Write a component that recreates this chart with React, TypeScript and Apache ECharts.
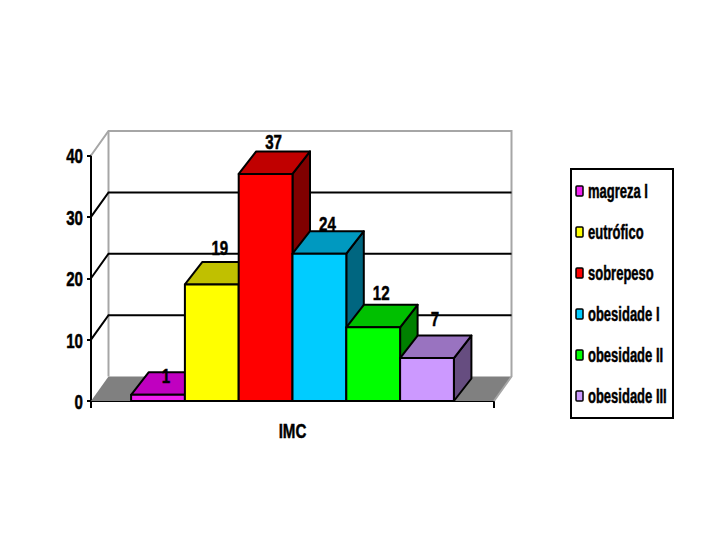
import React, { useEffect, useRef } from "react";
import * as echarts from "echarts";

const categories = ["IMC"];
const seriesNames = ["magreza I", "eutrófico", "sobrepeso", "obesidade I", "obesidade II", "obesidade III"];
const seriesValues = [1, 19, 37, 24, 12, 7];
const yTicks = [0, 10, 20, 30, 40];

const frontColors = ["#F020F0", "#FFFF00", "#FF0000", "#00CCFF", "#00FF00", "#CC99FF"];
const topColors = ["#C000C0", "#C0C000", "#C00000", "#0099C0", "#00C000", "#9973C0"];
const sideColors = ["#800080", "#808000", "#800000", "#006680", "#008000", "#664D80"];
const labelLift = [19, 37, 32, 30, 35, 39];

const FONT = '"Liberation Sans", Arial, sans-serif';
const SQUEEZE = 0.72;
const DX = 17.5;
const DY = -24.5;
const BAR_DY = -22.5;

function narrowText(text: string, x: number, y: number, size: number, align: string, squeeze = SQUEEZE) {
  return {
    type: "text",
    x,
    y,
    scaleX: squeeze,
    style: {
      text,
      x: 0,
      y: 0,
      align,
      verticalAlign: "middle",
      fill: "#000",
      stroke: "#000",
      lineWidth: 0.5,
      font: `bold ${size}px ${FONT}`,
    },
  };
}

function wallItem(params: any, api: any) {
  const cs = params.coordSys;
  const l = cs.x, r = cs.x + cs.width;
  const y = (v: number) => api.coord([0, v])[1];
  const children: any[] = [];
  const gray = "#A6A6A6";
  children.push({
    type: "polygon",
    shape: { points: [[l, y(0)], [l + DX, y(0) + DY], [r + DX, y(0) + DY], [r, y(0)]] },
    style: { fill: "#808080", stroke: "none" },
  });
  children.push({
    type: "polyline",
    shape: { points: [[l, y(40)], [l + DX, y(40) + DY], [r + DX, y(40) + DY], [r + DX, y(0) + DY], [r, y(0)]] },
    style: { fill: "none", stroke: gray, lineWidth: 2 },
  });
  children.push({
    type: "line",
    shape: { x1: l + DX, y1: y(40) + DY, x2: l + DX, y2: y(0) + DY },
    style: { stroke: gray, lineWidth: 2 },
  });
  yTicks.filter((t) => t > 0 && t < 40).forEach((t) => {
    children.push({
      type: "polyline",
      shape: { points: [[l, y(t)], [l + DX, y(t) + DY], [r + DX, y(t) + DY]] },
      style: { fill: "none", stroke: "#000", lineWidth: 2 },
    });
  });
  yTicks.forEach((t) => children.push(narrowText(String(t), l - 8, y(t) + 0.5, 21, "right")));
  children.push(narrowText(categories[0], api.coord([0, 0])[0], y(0) + 30, 21, "center"));
  return { type: "group", children };
}

function barItem(params: any, api: any) {
  const i = params.seriesIndex - 1;
  const band = api.size([1, 0])[0];
  const w = band * 0.1335;
  const value = api.value(1);
  const center = api.coord([0, value]);
  const x0 = center[0] + (i - 3) * w;
  const x1 = x0 + w;
  const top = center[1];
  const base = api.coord([0, 0])[1];
  const edge = { stroke: "#000", lineWidth: 2, lineJoin: "round" };
  return {
    type: "group",
    children: [
      {
        type: "polygon",
        shape: { points: [[x1, top], [x1 + DX, top + BAR_DY], [x1 + DX, base + BAR_DY], [x1, base]] },
        style: { fill: sideColors[i], ...edge },
      },
      {
        type: "polygon",
        shape: { points: [[x0, top], [x0 + DX, top + BAR_DY], [x1 + DX, top + BAR_DY], [x1, top]] },
        style: { fill: topColors[i], ...edge },
      },
      {
        type: "rect",
        shape: { x: x0, y: top, width: w, height: base - top },
        style: { fill: frontColors[i], ...edge },
      },
      narrowText(String(value), x0 + w / 2 + 8, top - labelLift[i], 21, "center"),
    ],
  };
}

function legendGraphics() {
  const box = { type: "rect", shape: { x: 571, y: 169, width: 102, height: 249 }, style: { fill: "#fff", stroke: "#000", lineWidth: 2 } };
  const rows = seriesNames.flatMap((name, i) => {
    const cy = 191 + i * 41;
    return [
      { type: "rect", shape: { x: 576, y: cy - 5, width: 7, height: 10, r: 1 }, style: { fill: frontColors[i], stroke: "#000", lineWidth: 1.5 } },
      narrowText(name, 588, cy, 20, "left", 0.65),
    ];
  });
  return [box, ...rows];
}

export default function App() {
  const ref = useRef<HTMLDivElement>(null);
  useEffect(() => {
    const chart = echarts.init(ref.current!, undefined, { renderer: "svg" });
    chart.setOption({
      animation: false,
      backgroundColor: "#fff",
      grid: { left: 91, top: 155.5, width: 403, height: 245.5 },
      graphic: legendGraphics(),
      xAxis: {
        type: "category",
        data: categories,
        axisLine: { lineStyle: { color: "#000", width: 2 } },
        axisTick: { show: true, length: 7, lineStyle: { color: "#000", width: 2 } },
        axisLabel: { show: false },
      },
      yAxis: {
        type: "value",
        min: 0,
        max: 40,
        interval: 10,
        splitLine: { show: false },
        axisLine: { show: true, lineStyle: { color: "#000", width: 2 } },
        axisTick: { show: true, length: 4, lineStyle: { color: "#000", width: 2 } },
        axisLabel: { show: false },
      },
      series: [
        {
          type: "custom",
          name: "wall",
          silent: true,
          clip: false,
          z: 1,
          renderItem: wallItem,
          encode: { x: 0, y: 1 },
          data: [[0, 40]],
        },
        ...seriesNames.map((name, i) => ({
          type: "custom",
          name,
          clip: false,
          z: 3,
          renderItem: barItem,
          encode: { x: 0, y: 1 },
          data: [[0, seriesValues[i]]],
        })),
      ],
    });
    return () => chart.dispose();
  }, []);
  return <div ref={ref} style={{ position: "absolute", left: 0, top: 0, width: 720, height: 540 }} />;
}
